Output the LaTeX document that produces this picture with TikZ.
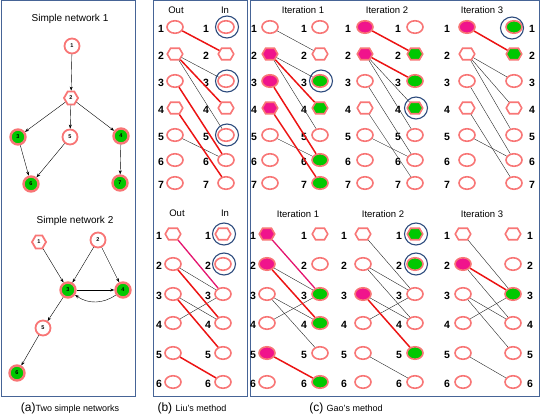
\documentclass[tikz,border=0pt]{standalone}
\usepackage{fontspec}
\setmainfont{Liberation Sans}
\usetikzlibrary{shapes.geometric,shapes.symbols,arrows.meta}
\definecolor{salmon}{RGB}{248,118,118}
\definecolor{gfill}{RGB}{0,200,0}
\definecolor{mfill}{RGB}{240,20,140}
\definecolor{redE}{RGB}{236,20,20}
\definecolor{pinkE}{RGB}{228,20,110}
\definecolor{ringC}{RGB}{45,75,125}
\definecolor{frameC}{RGB}{70,100,150}
\newcommand\mkcol[4]{\foreach \i/\yy/\s in {#4}{\node[\s] (#1\i) at (#2,\yy) {}; \node[num] (#1n\i) at (#3,\yy+2) {\i};}}
\begin{document}
\begin{tikzpicture}[x=1pt,y=-1pt,
 base/.style={draw=salmon,line width=1.6pt,inner sep=0pt,fill=white},
 vc/.style={base,ellipse,minimum width=16pt,minimum height=12.5pt},
 vh/.style={base,signal,signal to=east and west,signal pointer angle=120,minimum width=15.5pt,minimum height=11.5pt},
 gc/.style={vc,fill=gfill}, gh/.style={vh,fill=gfill},
 mc/.style={vc,fill=mfill}, mh/.style={vh,fill=mfill},
 num/.style={font=\bfseries\fontsize{10.5}{10.5}\selectfont,inner sep=0pt},
 ttl/.style={font=\fontsize{9.5}{9.5}\selectfont,inner sep=0pt},
 ring/.style={draw=ringC,line width=1.1pt,ellipse,minimum width=23pt,minimum height=22pt,inner sep=0pt},
 te/.style={line width=0.4pt,black!85},
 me/.style={line width=1.5pt,redE},
 pe/.style={line width=1.3pt,pinkE},
 frame/.style={draw=frameC,line width=1pt},
 pa/.style={circle,draw=salmon,line width=1.8pt,fill=white,minimum size=15pt,inner sep=0pt,font=\bfseries\fontsize{5.5}{5.5}\selectfont},
 pag/.style={pa,fill=gfill,line width=2.4pt},
 pah/.style={pa,signal,signal to=east and west,signal pointer angle=120,minimum size=0pt,minimum width=14pt,minimum height=13pt},
 arr/.style={-{Stealth[length=4pt,width=3pt]},line width=0.4pt},
 captxt/.style={inner sep=0pt}
]
\useasboundingbox (0,0) rectangle (541,417);
% frames
\draw[frame] (1,1) rectangle (135,396);
\draw[frame] (153,1) rectangle (247,396);
\draw[frame] (250,1) rectangle (539,396);
% ---------- panel (a)
\node[ttl,font=\fontsize{10}{10}\selectfont] (sn1) at (70,19) {Simple network 1};
\node[pa] (a1) at (72,46) {1};
\node[pah] (a2) at (71,98) {2};
\node[pag] (a3) at (18,137) {3};
\node[pa] (a5) at (70,137) {5};
\node[pag] (a4) at (121,136) {4};
\node[pag] (a6) at (31,184) {6};
\node[pag] (a7) at (120,183) {7};
\draw[arr] (a1) -- (a2);
\draw[arr] (a2) -- (a3);
\draw[arr] (a2) -- (a5);
\draw[arr] (a2) -- (a4);
\draw[arr] (a3) -- (a6);
\draw[arr] (a5) -- (a6);
\draw[arr] (a4) -- (a7);
\node[ttl,font=\fontsize{10}{10}\selectfont] (sn2) at (75,221) {Simple network 2};
\node[pah] (b1) at (39,242) {1};
\node[pa] (b2) at (98,240) {2};
\node[pag] (b3) at (68,290) {3};
\node[pag] (b4) at (123,290) {4};
\node[pa] (b5) at (43,328) {5};
\node[pag] (b6) at (17,373) {6};
\draw[arr] (b1) -- (b3);
\draw[arr] (b2) -- (b3);
\draw[arr] (b2) -- (b4);
\draw[arr] (b3) -- (b4);
\draw[arr] (b4) to[bend left=35] (b3);
\draw[arr] (b3) -- (b5);
\draw[arr] (b5) -- (b6);
\node[captxt] (capa) at (70,408) {\fontsize{12}{12}\selectfont(a)\fontsize{9}{9}\selectfont Two simple networks};
% ---------- panel (b) Liu
\node[ttl] (lout) at (176,10) {Out};
\node[ttl] (lin) at (225,10) {In};
\mkcol{lo}{175}{161}{1/27/vc,2/54/vh,3/81/vc,4/108/vh,5/135/vc,6/160/vc,7/183/vc}
\mkcol{li}{226}{206}{1/27/vc,2/54/vh,3/81/vc,4/108/vh,5/135/vc,6/160/vc,7/183/vc}
\draw[te] (lo2) -- (li3);
\draw[te] (lo2) -- (li5);
\draw[te] (lo5) -- (li6);
\draw[me] (lo1) -- (li2);
\draw[me] (lo2) -- (li4);
\draw[me] (lo3) -- (li6);
\draw[me] (lo4) -- (li7);
\node[ring,xshift=1pt] (rl1) at (li1) {};
\node[ring,xshift=1pt] (rl3) at (li3) {};
\node[ring,xshift=1pt] (rl5) at (li5) {};
\node[ttl] (mout) at (177,213) {Out};
\node[ttl] (min) at (225,213) {In};
\mkcol{mo}{173}{159}{1/234/vh,2/264/vc,3/294/vc,4/323/vc,5/353/vc,6/382/vc}
\mkcol{mi}{223}{208}{1/234/vh,2/264/vc,3/294/vc,4/323/vc,5/353/vc,6/382/vc}
\draw[te] (mo2) -- (mi3);
\draw[te] (mo3) -- (mi4);
\draw[te] (mo4) -- (mi3);
\draw[pe] (mo1) -- (mi3);
\draw[me] (mo2) -- (mi4);
\draw[me] (mo3) -- (mi5);
\draw[me] (mo5) -- (mi6);
\node[ring,xshift=1pt] (rm1) at (mi1) {};
\node[ring,xshift=1pt] (rm2) at (mi2) {};
\node[captxt] (capb) at (192,408) {\fontsize{12}{12}\selectfont(b) \fontsize{9}{9}\selectfont Liu's method};
% ---------- panel (c) Gao, top
\node[ttl] (it1) at (303,10) {Iteration 1};
\node[ttl] (it2) at (387,10) {Iteration 2};
\node[ttl] (it3) at (482,10) {Iteration 3};
\mkcol{ao}{270}{254}{1/27/vc,2/54/mh,3/81/mc,4/108/mh,5/135/vc,6/160/vc,7/183/vc}
\mkcol{ai}{320}{304}{1/27/vc,2/54/vh,3/81/gc,4/108/gh,5/135/vc,6/160/gc,7/183/gc}
\draw[te] (ao1) -- (ai2);
\draw[te] (ao2) -- (ai3);
\draw[te] (ao2) -- (ai5);
\draw[te] (ao5) -- (ai6);
\draw[me] (ao2) -- (ai4);
\draw[me] (ao3) -- (ai6);
\draw[me] (ao4) -- (ai7);
\node[ring,xshift=1pt] (ra3) at (ai3) {};
\mkcol{bo}{365}{348}{1/27/mc,2/54/mh,3/81/vc,4/108/vh,5/135/vc,6/160/vc,7/183/vc}
\mkcol{bi}{415}{398}{1/27/vc,2/54/gh,3/81/gc,4/108/gh,5/135/vc,6/160/vc,7/183/vc}
\draw[te] (bo2) -- (bi4);
\draw[te] (bo2) -- (bi5);
\draw[te] (bo3) -- (bi6);
\draw[te] (bo4) -- (bi7);
\draw[te] (bo5) -- (bi6);
\draw[me] (bo1) -- (bi2);
\draw[me] (bo2) -- (bi3);
\node[ring,xshift=1pt] (rb4) at (bi4) {};
\mkcol{co}{467}{447}{1/27/mc,2/54/vh,3/81/vc,4/108/vh,5/135/vc,6/160/vc,7/183/vc}
\mkcol{ci}{514}{532}{1/27/gc,2/54/gh,3/81/vc,4/108/vh,5/135/vc,6/160/vc,7/183/vc}
\draw[te] (co2) -- (ci3);
\draw[te] (co2) -- (ci4);
\draw[te] (co2) -- (ci5);
\draw[te] (co3) -- (ci6);
\draw[te] (co4) -- (ci7);
\draw[te] (co5) -- (ci6);
\draw[me] (co1) -- (ci2);
\node[ring,xshift=-2pt,yshift=-1pt] (rc1) at (ci1) {};
% ---------- panel (c) Gao, bottom
\node[ttl] (jt1) at (298,214) {Iteration 1};
\node[ttl] (jt2) at (383,214) {Iteration 2};
\node[ttl] (jt3) at (482,214) {Iteration 3};
\mkcol{do}{267}{253}{1/234/mh,2/264/mc,3/294/vc,4/323/vc,5/353/mc,6/382/vc}
\mkcol{di}{320}{304}{1/234/vh,2/264/vc,3/294/gc,4/323/gc,5/353/vc,6/382/gc}
\draw[te] (do2) -- (di3);
\draw[te] (do3) -- (di4);
\draw[te] (do3) -- (di5);
\draw[te] (do4) -- (di3);
\draw[pe] (do1) -- (di3);
\draw[me] (do2) -- (di4);
\draw[me] (do5) -- (di6);
\mkcol{eo}{363}{344}{1/234/vh,2/264/vc,3/294/mc,4/323/vc,5/353/vc,6/382/vc}
\mkcol{ei}{415}{399}{1/234/gh,2/264/gc,3/294/vc,4/323/vc,5/353/gc,6/382/vc}
\draw[te] (eo1) -- (ei3);
\draw[te] (eo2) -- (ei3);
\draw[te] (eo2) -- (ei4);
\draw[te] (eo3) -- (ei4);
\draw[te] (eo4) -- (ei3);
\draw[te] (eo5) -- (ei6);
\draw[me] (eo3) -- (ei5);
\node[ring,xshift=1pt] (re1) at (ei1) {};
\node[ring,xshift=1pt] (re2) at (ei2) {};
\mkcol{fo}{463}{447}{1/234/vh,2/264/mc,3/294/vc,4/323/vc,5/353/vc,6/382/vc}
\mkcol{fi}{513}{530}{1/234/vh,2/264/vc,3/294/gc,4/323/vc,5/353/vc,6/382/vc}
\draw[te] (fo1) -- (fi3);
\draw[te] (fo2) -- (fi4);
\draw[te] (fo3) -- (fi4);
\draw[te] (fo3) -- (fi5);
\draw[te] (fo4) -- (fi3);
\draw[te] (fo5) -- (fi6);
\draw[me] (fo2) -- (fi3);
\node[captxt] (capc) at (346,408) {\fontsize{12}{12}\selectfont(c) \fontsize{9}{9}\selectfont Gao's method};
\end{tikzpicture}
\end{document}
